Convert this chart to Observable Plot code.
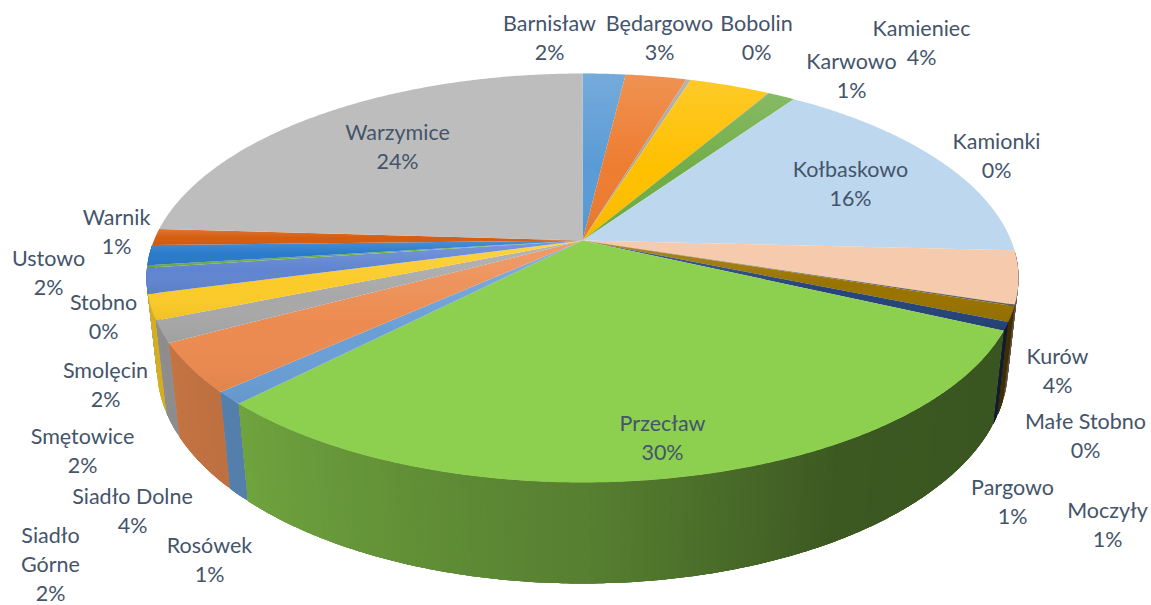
<!DOCTYPE html>
<html>
<head>
<meta charset="utf-8">
<script src="https://cdn.jsdelivr.net/npm/d3@7"></script>
<script src="https://cdn.jsdelivr.net/npm/@observablehq/plot@0.6"></script>
<style>html,body{margin:0;padding:0;background:#fff}svg{display:block}</style>
</head>
<body>
<div id="chart"></div>
<script>
const towns = ["Barnisław","Będargowo","Bobolin","Kamieniec","Kamionki","Karwowo","Kołbaskowo","Kurów","Małe Stobno","Moczyły","Pargowo","Przecław","Rosówek","Siadło Dolne","Siadło\nGórne","Smolęcin","Smętowice","Stobno","Ustowo","Warnik","Warzymice"];
const shares = [1.9,2.7,0.2,3.6,0.02,1.2,16.2,4.2,0.1,1.2,0.65,30.4,1.0,3.9,1.7,2.0,2.0,0.2,1.6,1.3,24.1];
const percentLabels = ["2%","3%","0%","4%","0%","1%","16%","4%","0%","1%","1%","30%","1%","4%","2%","2%","2%","0%","2%","1%","24%"];
const sliceColors = ["#5B9BD5","#ED7D31","#A5A5A5","#FFC000","#4472C4","#70AD47","#BDD7EE","#F6CBAD","#636363","#997300","#264478","#8DCF4F","#6A9FD6","#EC8B50","#A8A8A8","#FBCB28","#6085D0","#70AD47","#2A7ACB","#D65D10","#BDBDBD"];
const flatSlices = ["Kołbaskowo","Kurów","Przecław","Warzymice"];

// layout: where each label block is centred, in picture units
const labelAt = [[549,36],[659,36],[756,36],[921,41],[996,154],[851,74],[850,182],[1057,369],[1085,434],[1107,523],[1012,500],[662,436],[209,558],[132,509],[50,562],[105,383],[82,449],[103,315],[48,271],[116,230],[397,145]];

// perspective model of the pie: unit disc -> picture plane
const apex = {x: 582, y: 240}, persp = 0.1834, scaleU = 428.6, scaleV = 197.6, drop = 90.7, recede = 0.024;
function project(theta, z) {
  const u = Math.sin(theta), v = -Math.cos(theta), w = 1 - persp * v + recede * z;
  return {px: apex.x + scaleU * u / w, py: apex.y + (scaleV * v + drop * z) / w};
}
const rad = d => d * Math.PI / 180;
const total = d3.sum(shares);
let run = 0;
const slices = towns.map((town, i) => {
  const a0 = run / total * 360; run += shares[i]; const a1 = run / total * 360;
  return {town, i, a0, a1, color: sliceColors[i]};
});
function arcAngles(a0, a1, step) {
  const n = Math.max(1, Math.ceil((a1 - a0) / step));
  return d3.range(n + 1).map(k => a0 + (a1 - a0) * k / n);
}
const shadeAt = d3.scaleLinear().domain([0,90,150,180,225,270,360]).range([0.4,0.4,0.43,0.62,0.8,0.9,0.9]).clamp(true);
const darken = (c, f) => { const r = d3.rgb(c); return d3.rgb(r.r*f, r.g*f, r.b*f).formatHex(); };

const topFace = slices.flatMap(s => [
  {id: s.i, color: s.color, town: s.town, px: apex.x, py: apex.y},
  ...arcAngles(s.a0, s.a1, 0.5).map(a => ({id: s.i, color: s.color, town: s.town, ...project(rad(a), 0)}))
]);

// side wall: only the front of the drum, painted from back to front
const wallCells = [];
slices.forEach(s => {
  if (s.a1 < 95 || s.a0 > 268) return;
  const st = arcAngles(s.a0, s.a1, 0.5);
  for (let k = 0; k < st.length - 1; k++) {
    const mid = (st[k] + st[k+1]) / 2;
    wallCells.push({a0: st[k], a1: Math.min(st[k+1] + 1.5, s.a1), depth: -Math.cos(rad(mid)), color: darken(s.color, shadeAt(mid))});
  }
});
wallCells.sort((p, q) => p.depth - q.depth);
const wallPts = wallCells.flatMap((c, id) => [
  {id, color: c.color, ...project(rad(c.a0), 0)},
  ...arcAngles(c.a0, c.a1, 0.5).slice(1).map(a => ({id, color: c.color, ...project(rad(a), 0)})),
  ...arcAngles(c.a0, c.a1, 0.5).reverse().map(a => ({id, color: c.color, ...project(rad(a), 1)}))
]);

const labels = towns.map((t, i) => ({text: t + "\n" + percentLabels[i], lx: labelAt[i][0], ly: labelAt[i][1]}));

const defs = () => d3.create("svg:defs").html(
  '<linearGradient id="sheen" x1="0" y1="0" x2="0" y2="1">' +
  '<stop offset="0" stop-color="#fff" stop-opacity="0.16"/>' +
  '<stop offset="0.55" stop-color="#fff" stop-opacity="0"/>' +
  '<stop offset="1" stop-color="#000" stop-opacity="0.05"/></linearGradient>').node();

const chart = Plot.plot({
  width: 1151, height: 605, margin: 0,
  x: {domain: [0, 1151], range: [0, 1151], axis: null},
  y: {domain: [0, 605], range: [0, 605], axis: null},
  color: {type: "identity"},
  style: {background: "#fff"},
  marks: [
    defs,
    Plot.line(wallPts, {x: "px", y: "py", z: "id", fill: "color", stroke: "none", curve: "linear"}),
    Plot.line(topFace, {x: "px", y: "py", z: "id", fill: "color", stroke: "none", curve: "linear"}),
    Plot.line(topFace.filter(d => !flatSlices.includes(d.town)), {x: "px", y: "py", z: "id", fill: "url(#sheen)", stroke: "none", curve: "linear"}),
    Plot.text(labels, {x: "lx", y: "ly", text: "text", fill: "#44546A", fontSize: 21.5, fontFamily: "Lato", lineHeight: 1.35, textAnchor: "middle", lineAnchor: "middle"})
  ]
});
document.getElementById("chart").append(chart);
</script>
</body>
</html>
